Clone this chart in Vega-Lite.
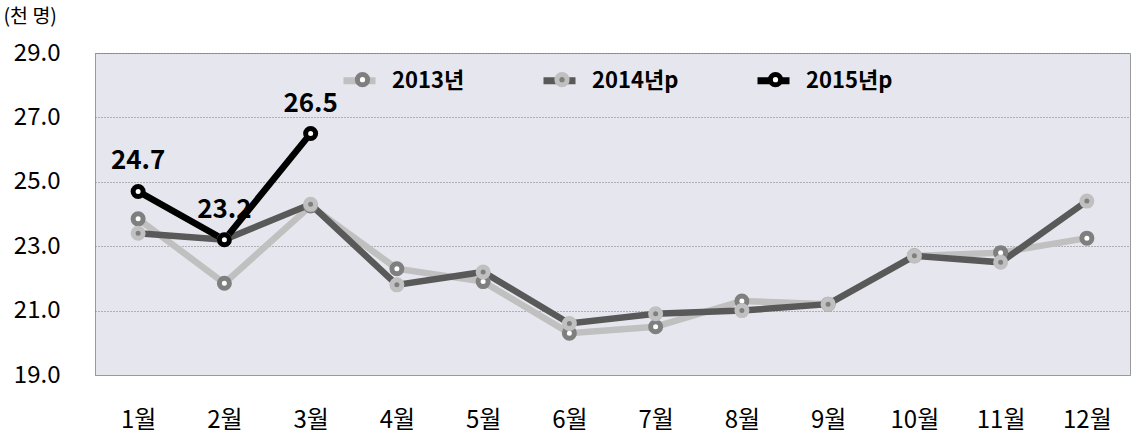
{
  "$schema": "https://vega.github.io/schema/vega-lite/v6.json",
  "autosize": "none",
  "width": 1035,
  "height": 322,
  "padding": {"left": 95, "top": 53, "right": 3, "bottom": 62},
  "background": "white",
  "config": {
    "font": "Noto Sans CJK KR",
    "view": {"fill": "#e6e6ee", "stroke": "#9a9a9a", "strokeWidth": 1}
  },
  "data": {
    "values": [
      {"month": "1월", "series": "2013년", "value": 23.85},
      {"month": "2월", "series": "2013년", "value": 21.85},
      {"month": "3월", "series": "2013년", "value": 24.25},
      {"month": "4월", "series": "2013년", "value": 22.3},
      {"month": "5월", "series": "2013년", "value": 21.9},
      {"month": "6월", "series": "2013년", "value": 20.3},
      {"month": "7월", "series": "2013년", "value": 20.5},
      {"month": "8월", "series": "2013년", "value": 21.3},
      {"month": "9월", "series": "2013년", "value": 21.2},
      {"month": "10월", "series": "2013년", "value": 22.7},
      {"month": "11월", "series": "2013년", "value": 22.8},
      {"month": "12월", "series": "2013년", "value": 23.25},
      {"month": "1월", "series": "2014년p", "value": 23.4},
      {"month": "2월", "series": "2014년p", "value": 23.2},
      {"month": "3월", "series": "2014년p", "value": 24.3},
      {"month": "4월", "series": "2014년p", "value": 21.8},
      {"month": "5월", "series": "2014년p", "value": 22.2},
      {"month": "6월", "series": "2014년p", "value": 20.6},
      {"month": "7월", "series": "2014년p", "value": 20.9},
      {"month": "8월", "series": "2014년p", "value": 21.0},
      {"month": "9월", "series": "2014년p", "value": 21.2},
      {"month": "10월", "series": "2014년p", "value": 22.7},
      {"month": "11월", "series": "2014년p", "value": 22.5},
      {"month": "12월", "series": "2014년p", "value": 24.4},
      {"month": "1월", "series": "2015년p", "value": 24.7},
      {"month": "2월", "series": "2015년p", "value": 23.2},
      {"month": "3월", "series": "2015년p", "value": 26.5}
    ]
  },
  "encoding": {
    "x": {
      "field": "month", "type": "ordinal", "sort": null,
      "scale": {"type": "point", "padding": 0.5},
      "axis": {
        "title": null, "labelAngle": 0, "labelFontSize": 24, "labelColor": "#000000",
        "labelPadding": 33, "ticks": false, "grid": false, "domainColor": "#9a9a9a"
      }
    },
    "y": {
      "field": "value", "type": "quantitative",
      "scale": {"domain": [19, 29], "zero": false, "nice": false},
      "axis": {
        "values": [19, 21, 23, 25, 27, 29], "format": ".1f",
        "labelFontSize": 24, "labelColor": "#000000", "labelPadding": 35,
        "ticks": false, "domain": false,
        "grid": true, "gridColor": "#7a7a7a", "gridDash": [1, 2], "gridWidth": 1,
        "title": "(천 명)", "titleAngle": 0, "titleAlign": "left", "titleBaseline": "middle",
        "titleX": -92, "titleY": -37, "titleFontSize": 19.5, "titleFontWeight": "normal", "titleColor": "#000000"
      }
    }
  },
  "layer": [
    {
      "mark": {"type": "line", "strokeWidth": 6.5},
      "encoding": {
        "color": {
          "field": "series", "type": "nominal",
          "scale": {"range": ["#c0c0c0", "#595959", "#000000"]},
          "legend": {
            "title": null, "orient": "none", "direction": "horizontal",
            "legendX": 245, "legendY": 8, "padding": 0,
            "symbolType": "stroke", "symbolSize": 1024, "symbolStrokeWidth": 7,
            "labelFontSize": 22, "labelFontWeight": "bold", "labelColor": "#000000",
            "labelOffset": 13, "columnPadding": 64,
            "encode": {"symbols": {"update": {"size": {"value": 1024}, "strokeWidth": {"value": 7}}}}
          }
        }
      }
    },
    {
      "mark": {"type": "point", "filled": false, "size": 100, "strokeWidth": 5, "opacity": 1},
      "encoding": {
        "fill": {
          "field": "series", "type": "nominal",
          "scale": {"domain": ["2013년", "2014년p", "2015년p"], "range": ["#ffffff", "#7f7f7f", "#ffffff"]},
          "legend": {
            "title": null, "orient": "none", "direction": "horizontal",
            "legendX": 249, "legendY": 8, "padding": 0,
            "symbolType": "M-1,0M1,0M-0.32,0A0.32,0.32,0,1,1,0.32,0A0.32,0.32,0,1,1,-0.32,0Z",
            "symbolSize": 1024, "symbolStrokeWidth": 5,
            "labelFontSize": 22, "labelFontWeight": "bold", "labelOpacity": 0,
            "labelOffset": 11, "columnPadding": 70.5,
            "encode": {"symbols": {"update": {"size": {"value": 1024}, "strokeWidth": {"value": 5}}}}
          }
        },
        "stroke": {
          "field": "series", "type": "nominal",
          "scale": {"domain": ["2013년", "2014년p", "2015년p"], "range": ["#7f7f7f", "#c0c0c0", "#000000"]}
        }
      }
    },
    {
      "transform": [{"filter": "datum.series === '2015년p'"}],
      "mark": {"type": "text", "fontSize": 26, "fontWeight": "bold", "dy": -30, "color": "#000000", "baseline": "middle"},
      "encoding": {
        "text": {"field": "value", "type": "quantitative", "format": ".1f"}
      }
    }
  ]
}
